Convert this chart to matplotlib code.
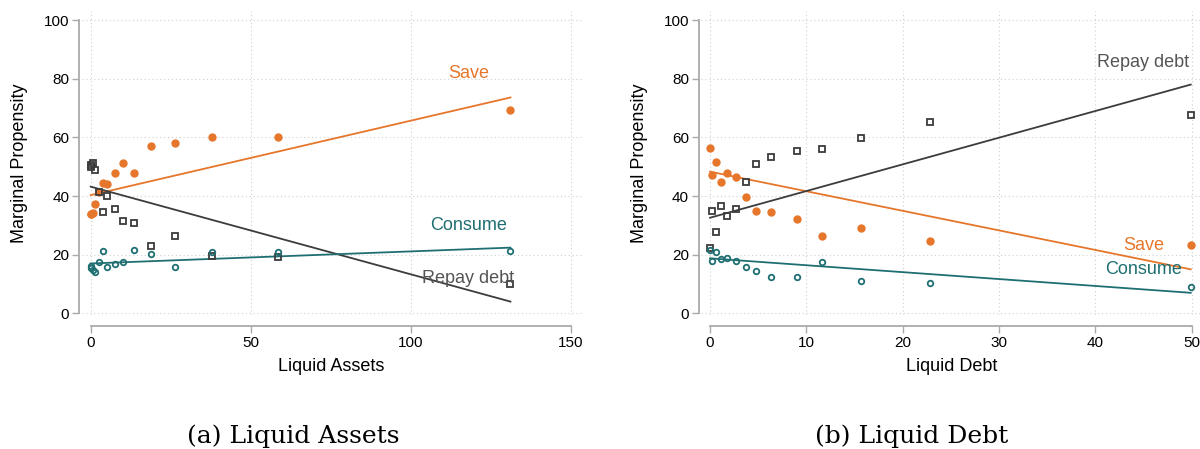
import matplotlib
matplotlib.use("Agg")
import matplotlib.pyplot as plt

# panel (a): liquid assets bins
assets_x = [0.0, 0.2, 0.6, 1.4, 2.5, 3.8, 5.2, 7.7, 10.1, 13.6, 18.9, 26.2, 38.0, 58.5, 131.1]
assets_save = [34.0, 33.8, 34.2, 37.2, 41.3, 44.3, 44.1, 47.8, 51.1, 48.0, 56.9, 58.2, 60.0, 60.1, 69.2]
assets_repay = [49.9, 50.6, 51.1, 48.8, 41.3, 34.4, 40.1, 35.6, 31.5, 30.8, 23.0, 26.4, 19.5, 19.2, 9.9]
assets_consume = [16.1, 15.6, 14.9, 14.2, 17.4, 21.4, 15.8, 16.7, 17.6, 21.5, 20.3, 15.7, 20.8, 20.8, 21.3]
# linear fits (value at first and last bin)
assets_fit_save = [40.3, 73.6]
assets_fit_repay = [43.2, 4.0]
assets_fit_consume = [17.0, 22.4]

# panel (b): liquid debt bins
debt_x = [0.0, 0.24, 0.64, 1.1, 1.8, 2.7, 3.7, 4.8, 6.3, 9.0, 11.6, 15.7, 22.8, 49.9]
debt_save = [56.3, 47.3, 51.6, 44.9, 47.8, 46.5, 39.7, 34.8, 34.4, 32.3, 26.4, 29.1, 24.8, 23.3]
debt_repay = [22.2, 35.0, 27.7, 36.6, 33.2, 35.7, 44.8, 51.0, 53.4, 55.2, 56.0, 59.9, 65.1, 67.7]
debt_consume = [21.6, 18.0, 20.8, 18.5, 19.0, 18.0, 15.7, 14.3, 12.3, 12.5, 17.6, 11.0, 10.2, 9.1]
debt_fit_save = [48.3, 15.0]
debt_fit_repay = [32.6, 78.0]
debt_fit_consume = [18.75, 7.0]

orange = "#E6762B"
teal = "#1F6F72"
gray = "#3C3C3C"
axcol = "#AAAAAA"

plt.rcParams['font.family'] = ['Liberation Sans', 'DejaVu Sans']

fig = plt.figure(figsize=(12, 4.49), dpi=100)
ax1 = fig.add_axes([0.0681, 0.2989, 0.4165, 0.676])
ax2 = fig.add_axes([0.5845, 0.2989, 0.4166, 0.676])


def draw(ax, x, save, repay, consume, fits, xlim, xticks, xlabel, lab_x, lab_y):
    ax.plot(x, save, "o", ms=5.0, color=orange, mec=orange, zorder=3)
    ax.plot(x, repay, "s", ms=4.6, mfc="none", mec=gray, mew=1.3, zorder=3)
    ax.plot(x, consume, "o", ms=4.0, mfc="none", mec=teal, mew=1.3, zorder=3)
    ends = [x[0], x[-1]]
    ax.plot(ends, fits[0], color=orange, lw=1.3, zorder=2)
    ax.plot(ends, fits[1], color=gray, lw=1.3, zorder=2)
    ax.plot(ends, fits[2], color=teal, lw=1.3, zorder=2)

    ax.text(lab_x, lab_y[0], "Save", color=orange, fontsize=13, ha="center", va="center")
    ax.text(lab_x, lab_y[1], "Repay debt", color="#555555", fontsize=13, ha="center", va="center")
    ax.text(lab_x, lab_y[2], "Consume", color=teal, fontsize=13, ha="center", va="center")

    ax.set_xlim(*xlim)
    ax.set_ylim(-0.5, 103)
    ax.set_xticks(xticks)
    ax.set_yticks([0, 20, 40, 60, 80, 100])
    ax.grid(True, linestyle=(0, (1, 2.5)), color="#D0D0D0", lw=0.8)
    ax.set_axisbelow(True)
    for s in ["top", "right"]:
        ax.spines[s].set_visible(False)
    ax.spines["left"].set_position(("outward", 2))
    ax.spines["bottom"].set_position(("outward", 8))
    ax.spines["left"].set_bounds(0, 100)
    ax.spines["bottom"].set_bounds(xticks[0], xticks[-1])
    for s in ["left", "bottom"]:
        ax.spines[s].set_color(axcol)
        ax.spines[s].set_linewidth(1.3)
    ax.tick_params(direction="out", length=5, width=1.0, color=axcol, labelsize=11, pad=2)
    ax.set_xlabel(xlabel, fontsize=13, labelpad=6)
    ax.set_ylabel("Marginal Propensity", fontsize=13, labelpad=11)


draw(ax1, assets_x, assets_save, assets_repay, assets_consume,
     [assets_fit_save, assets_fit_repay, assets_fit_consume],
     (-2.8, 153.3), [0, 50, 100, 150], "Liquid Assets", 118, [81.8, 11.9, 30.1])
draw(ax2, debt_x, debt_save, debt_repay, debt_consume,
     [debt_fit_save, debt_fit_repay, debt_fit_consume],
     (-0.9, 51.0), [0, 10, 20, 30, 40, 50], "Liquid Debt", 45.0, [23.0, 85.6, 15.0])

fig.text(293 / 1200, 0.029, "(a) Liquid Assets", ha="center", va="center",
         fontsize=18, family="DejaVu Serif")
fig.text(912 / 1200, 0.029, "(b) Liquid Debt", ha="center", va="center",
         fontsize=18, family="DejaVu Serif")

fig.savefig("out.png", dpi=100)
